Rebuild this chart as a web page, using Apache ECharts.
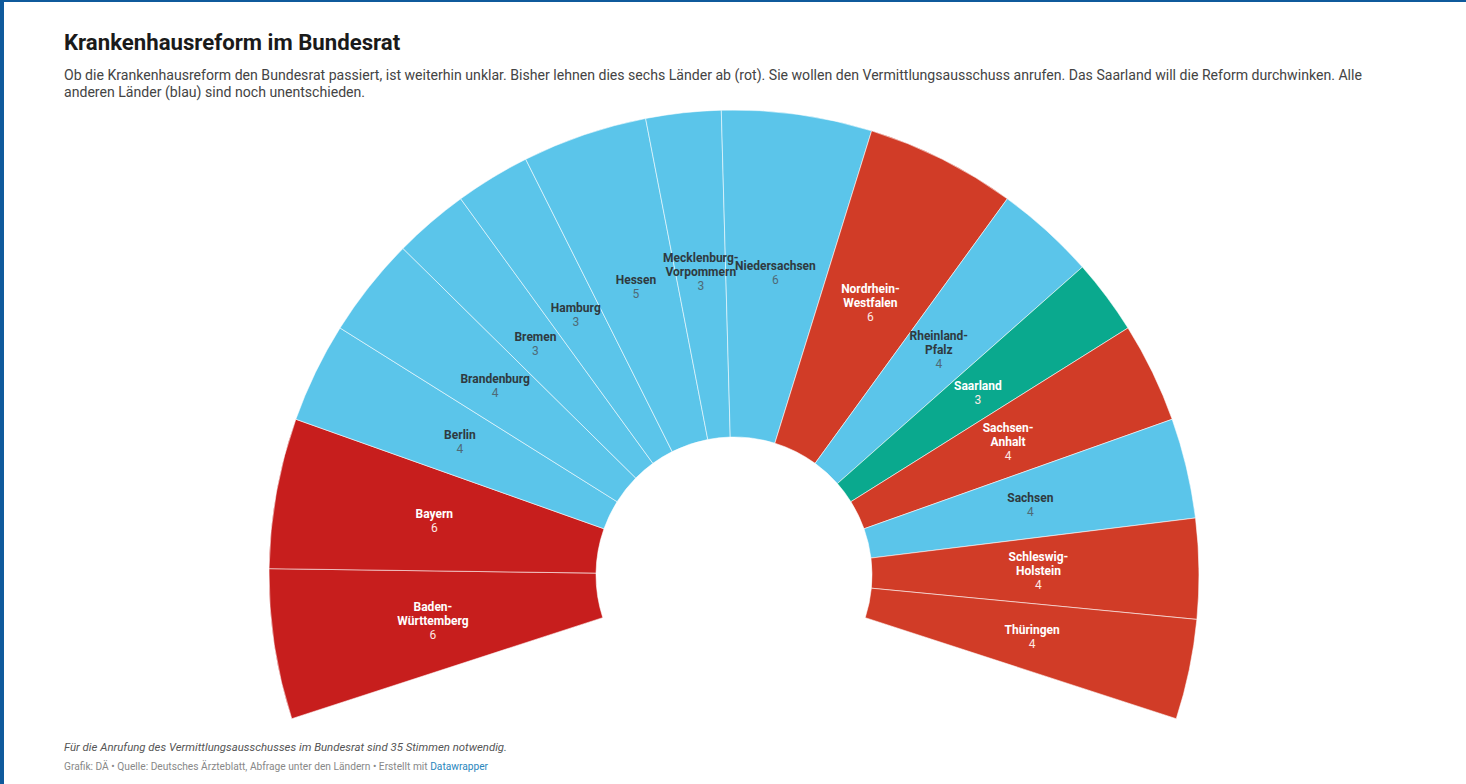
<!DOCTYPE html>
<html>
<head>
<meta charset="utf-8">
<script src="https://cdn.jsdelivr.net/npm/echarts@6/dist/echarts.min.js"></script>
<style>
  html, body { margin: 0; padding: 0; background: #fff; }
  #frame { position: absolute; left: 0; top: 0; width: 1466px; height: 784px; box-sizing: border-box; border-left: 4px solid #0f5a9c; border-top: 2px solid #0f5a9c; pointer-events: none; }
  #chart { position: absolute; left: 0; top: 0; width: 1466px; height: 784px; }
</style>
</head>
<body>
<div id="chart"></div>
<div id="frame"></div>
<script>
// Data (clockwise from lower left)
const states = ["Baden-Württemberg", "Bayern", "Berlin", "Brandenburg", "Bremen", "Hamburg", "Hessen",
  "Mecklenburg-Vorpommern", "Niedersachsen", "Nordrhein-Westfalen", "Rheinland-Pfalz", "Saarland",
  "Sachsen-Anhalt", "Sachsen", "Schleswig-Holstein", "Thüringen"];
const votes = [6, 6, 4, 4, 3, 3, 5, 3, 6, 6, 4, 3, 4, 4, 4, 4];
const stance = ["rot", "rot", "blau", "blau", "blau", "blau", "blau", "blau", "blau", "rot2", "blau", "gruen",
  "rot2", "blau", "rot2", "rot2"];
const palette = { rot: "#c71e1d", rot2: "#d13c27", blau: "#5bc5ea", gruen: "#0aa98e" };

const titleText = "Krankenhausreform im Bundesrat";
const subtitleLines = [
  "Ob die Krankenhausreform den Bundesrat passiert, ist weiterhin unklar. Bisher lehnen dies sechs Länder ab (rot). Sie wollen den Vermittlungsausschuss anrufen. Das Saarland will die Reform durchwinken. Alle",
  "anderen Länder (blau) sind noch unentschieden."
];
const noteText = "Für die Anrufung des Vermittlungsausschusses im Bundesrat sind 35 Stimmen notwendig.";
const sourceText = "Grafik: DÄ • Quelle: Deutsches Ärzteblatt, Abfrage unter den Ländern • Erstellt mit ";
const sourceLink = "Datawrapper";

const chart = echarts.init(document.getElementById('chart'), null, { renderer: 'svg' });

const data = states.map((s, i) => {
  const dark = stance[i] === 'blau';
  return {
    name: s,
    value: votes[i],
    itemStyle: { color: palette[stance[i]] },
    label: {
      rich: {
        n: { fontFamily: 'Roboto', fontWeight: 'bold', fontSize: 12, lineHeight: 14, color: dark ? '#2f3a40' : '#ffffff' },
        v: { fontFamily: 'Roboto', fontSize: 12, lineHeight: 14, color: dark ? '#4f6a76' : '#fde8e4' }
      }
    }
  };
});

const option = {
  animation: false,
  backgroundColor: '#ffffff',
  graphic: [
    { type: 'text', left: 64, top: 31, style: { text: titleText, font: 'bold 22.2px Roboto', fill: '#1a1a1a' } },
    { type: 'text', left: 64, top: 66, style: { text: subtitleLines.join('\n'), font: '14.1px Roboto', lineHeight: 17, fill: '#444' } },
    { type: 'text', left: 64, top: 741, style: { text: noteText, font: 'italic 11.4px Roboto', fill: '#555' } },
    { type: 'text', left: 64, top: 761, style: { text: '{a|' + sourceText + '}{b|' + sourceLink + '}',
        rich: { a: { fontFamily: 'Roboto', fontSize: 10.2, fill: '#888' }, b: { fontFamily: 'Roboto', fontSize: 10.2, fill: '#2a86bd' } } } }
  ],
  series: [{
    type: 'pie',
    center: [734, 575],
    radius: [138, 465],
    startAngle: 198,
    endAngle: -18,
    clockwise: true,
    avoidLabelOverlap: false,
    labelLayout: { hideOverlap: false },
    silent: true,
    itemStyle: { borderColor: 'rgba(255,255,255,0.55)', borderWidth: 1 },
    label: {
      show: true,
      position: 'inside',
      align: 'center',
      formatter: p => p.name.replace(/-/g, '-\n').split('\n').map(t => '{n|' + t + '}').join('\n') + '\n{v|' + p.value + '}'
    },
    labelLine: { show: false },
    data: data
  }]
};
chart.setOption(option);
</script>
</body>
</html>
